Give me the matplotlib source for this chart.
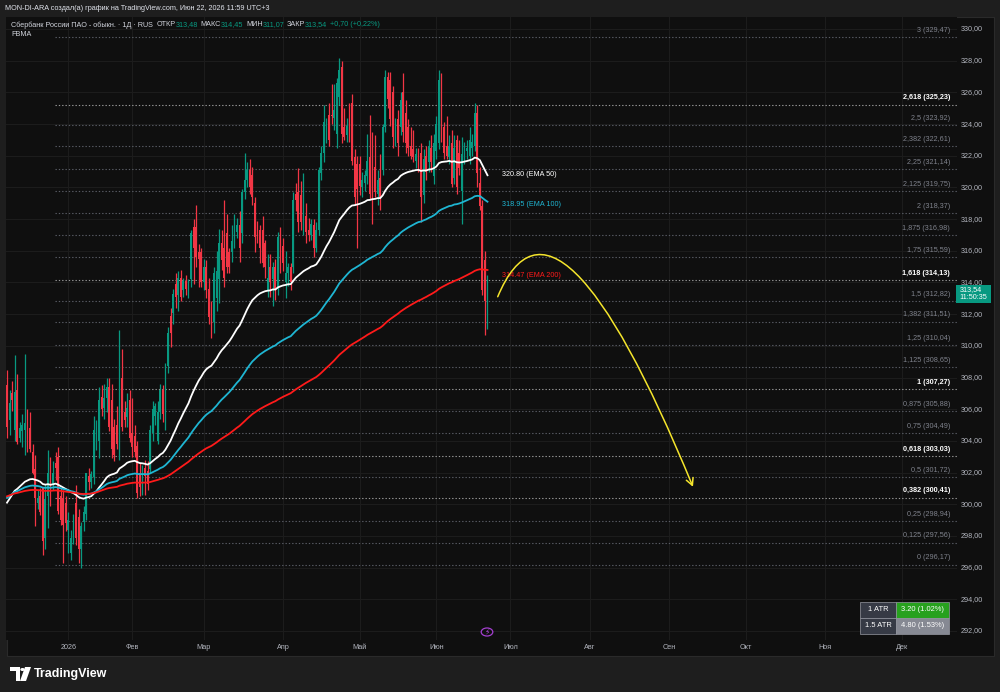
import numpy as np
import pandas as pd
import matplotlib
matplotlib.use('Agg')
import matplotlib.pyplot as plt
from matplotlib.patches import Rectangle, FancyArrowPatch, Circle, Polygon
from matplotlib.path import Path

plt.rcParams['font.family'] = ['Liberation Sans', 'DejaVu Sans']

# daily bars (MOEX trades on weekends too), 7 Dec 2025 .. 22 Jun 2026
first_day = '2025-12-07'
last_day = '2026-06-22'
holidays = ['2025-12-31', '2026-01-01', '2026-01-02', '2026-01-03', '2026-01-04',
            '2026-01-05', '2026-01-06', '2026-05-01', '2026-06-12']
year_end = '2026-12-31'

opens = [307.5, 305.3, 307.0, 304.7, 307.2, 304.2, 304.6, 304.7, 305.1, 304.8,
         303.3, 302.2, 300.1, 300.5, 301.1, 297.9, 300.5, 302.3, 301.3, 302.6,
         303.0, 300.5, 300.4, 300.1, 298.4, 296.9, 298.2, 300.1, 299.2, 297.2,
         298.9, 299.4, 301.8, 301.4, 301.7, 303.6, 304.0, 306.8, 306.1, 306.7,
         307.4, 306.6, 304.9, 305.0, 303.6, 308.0, 305.8, 305.5, 306.6, 304.5,
         304.3, 303.7, 302.0, 301.1, 302.3, 302.1, 302.2, 304.5, 305.6, 304.0,
         305.8, 307.2, 305.6, 308.7, 311.9, 312.1, 313.9, 313.2, 314.3, 313.5,
         314.1, 313.6, 314.2, 317.5, 317.5, 315.9, 315.9, 314.0, 315.0, 313.6,
         312.3, 311.5, 313.0, 314.2, 316.5, 316.2, 317.1, 315.9, 315.9, 316.7,
         317.2, 317.6, 317.1, 319.7, 320.5, 321.1, 320.8, 319.0, 317.3, 317.3,
         317.3, 316.5, 313.5, 315.0, 314.2, 315.0, 313.6, 317.2, 316.3, 314.0,
         314.6, 315.0, 315.0, 319.6, 319.7, 319.5, 317.5, 318.2, 317.3, 317.0,
         317.6, 316.2, 317.3, 320.9, 322.2, 323.5, 324.6, 324.6, 324.4, 323.4,
         325.7, 327.6, 323.8, 323.3, 324.2, 325.3, 321.9, 321.5, 321.5, 320.0,
         320.3, 320.7, 321.9, 321.5, 321.3, 319.6, 320.6, 321.1, 323.8, 327.0,
         326.8, 326.0, 323.1, 324.3, 323.8, 326.0, 324.7, 323.8, 322.6, 322.4,
         321.7, 322.0, 322.2, 319.5, 322.0, 321.6, 322.5, 320.7, 322.3, 322.8,
         326.8, 323.8, 322.6, 321.9, 322.8, 320.6, 323.0, 322.2, 319.8, 322.0,
         322.3, 322.0, 322.5, 322.6, 324.7, 320.3, 318.8, 315.4, 313.48]
highs = [308.5, 307.2, 307.8, 309.4, 308.2, 305.2, 305.7, 309.5, 306.0, 305.8,
         303.8, 303.1, 300.9, 301.0, 301.1, 301.3, 303.4, 303.0, 302.7, 303.3,
         303.6, 301.0, 300.9, 300.5, 299.5, 298.4, 299.4, 301.2, 299.7, 298.9,
         299.9, 302.0, 302.3, 302.1, 305.6, 305.3, 307.4, 307.5, 307.6, 308.0,
         308.0, 307.6, 305.4, 306.2, 311.0, 309.8, 306.5, 307.0, 307.2, 306.7,
         305.0, 304.0, 302.6, 302.5, 302.8, 302.7, 305.0, 306.5, 306.4, 306.5,
         307.6, 307.5, 308.9, 311.2, 312.4, 313.6, 314.6, 314.7, 314.8, 314.3,
         314.5, 314.2, 317.3, 318.0, 318.9, 316.4, 316.2, 315.5, 315.4, 314.3,
         312.8, 315.0, 316.0, 317.4, 317.3, 319.2, 318.3, 316.2, 317.6, 318.3,
         318.1, 318.5, 319.9, 322.2, 321.6, 321.8, 321.3, 319.4, 317.9, 317.6,
         318.2, 316.7, 315.8, 315.8, 315.3, 315.5, 317.2, 317.5, 316.8, 316.0,
         315.2, 315.2, 319.7, 320.3, 321.2, 320.4, 320.9, 319.0, 318.1, 318.0,
         318.0, 317.8, 321.3, 322.6, 325.2, 324.4, 325.3, 326.5, 326.5, 326.9,
         328.2, 328.0, 325.0, 324.4, 325.3, 325.9, 322.4, 322.0, 322.0, 321.0,
         321.1, 323.4, 324.6, 323.5, 323.3, 321.1, 322.1, 324.0, 327.4, 327.3,
         327.3, 326.4, 324.4, 324.9, 326.0, 327.2, 325.5, 324.3, 323.8, 323.6,
         322.5, 322.5, 322.8, 322.4, 322.6, 323.0, 323.3, 323.4, 324.5, 327.4,
         327.2, 324.1, 324.5, 323.3, 323.6, 323.3, 323.3, 323.0, 323.2, 322.9,
         323.0, 323.8, 323.4, 325.3, 325.2, 321.3, 319.2, 316.0, 314.45]
lows = [304.2, 304.4, 305.9, 304.0, 303.8, 303.9, 303.6, 303.1, 303.3, 303.3,
        301.9, 298.6, 299.7, 299.3, 296.8, 297.2, 298.5, 299.9, 300.9, 301.5,
        299.4, 298.7, 296.3, 298.3, 296.9, 296.5, 297.5, 297.4, 296.3, 296.0,
        298.3, 299.0, 300.9, 301.0, 301.3, 303.4, 302.9, 305.6, 305.4, 305.8,
        304.6, 302.9, 302.7, 303.5, 302.8, 304.6, 304.9, 304.9, 303.9, 303.0,
        303.0, 300.4, 300.5, 300.6, 300.6, 300.9, 302.0, 304.0, 305.0, 303.8,
        305.4, 305.2, 304.7, 308.3, 309.9, 311.4, 312.4, 312.2, 312.8, 313.1,
        313.2, 313.0, 313.7, 313.9, 315.0, 313.7, 313.7, 313.5, 313.0, 311.4,
        310.5, 310.8, 312.2, 312.7, 314.8, 313.7, 314.6, 314.6, 315.3, 316.2,
        316.8, 315.3, 316.5, 319.3, 320.0, 319.6, 318.9, 315.9, 316.5, 315.2,
        315.0, 314.3, 313.1, 313.1, 312.5, 312.9, 313.2, 314.6, 314.7, 313.0,
        313.8, 313.5, 314.6, 318.5, 317.2, 317.3, 317.0, 316.5, 316.6, 316.7,
        315.6, 315.9, 317.0, 320.5, 321.6, 322.8, 322.6, 324.0, 323.6, 322.5,
        325.2, 322.8, 323.0, 322.9, 322.9, 321.4, 318.9, 316.2, 319.5, 319.4,
        319.8, 320.2, 319.3, 317.7, 319.4, 318.9, 318.6, 320.8, 323.5, 325.0,
        323.9, 322.5, 322.6, 322.0, 323.3, 322.9, 322.2, 322.0, 321.8, 321.6,
        321.2, 321.0, 317.8, 319.0, 320.5, 321.0, 321.0, 320.2, 321.8, 322.4,
        322.9, 321.8, 321.8, 321.5, 320.0, 320.2, 319.6, 320.8, 317.7, 321.5,
        321.8, 321.5, 322.0, 322.3, 320.0, 318.6, 313.2, 310.7, 311.07]
closes = [304.9, 306.4, 306.6, 307.1, 303.9, 304.8, 305.0, 305.1, 303.4, 303.5,
          302.0, 300.4, 300.4, 299.5, 297.7, 300.3, 302.0, 300.3, 302.0, 302.3,
          299.6, 299.0, 298.7, 298.8, 299.0, 297.9, 299.1, 297.9, 297.2, 298.6,
          299.5, 302.0, 301.4, 301.9, 304.7, 304.4, 306.6, 306.0, 306.7, 307.4,
          304.9, 303.5, 303.1, 303.8, 308.5, 304.9, 305.3, 306.1, 304.2, 303.6,
          303.3, 300.7, 301.1, 302.2, 301.8, 301.3, 304.7, 306.0, 306.2, 305.8,
          307.2, 305.7, 308.6, 310.8, 310.8, 313.3, 313.1, 314.3, 313.1, 314.1,
          313.6, 314.0, 317.1, 316.2, 315.6, 315.5, 314.0, 315.0, 313.5, 311.8,
          311.1, 314.6, 314.7, 316.5, 315.4, 314.3, 315.0, 315.0, 316.6, 317.5,
          317.6, 316.2, 319.7, 320.5, 321.1, 320.0, 319.4, 316.9, 316.9, 316.2,
          315.2, 315.0, 314.3, 314.0, 315.0, 313.5, 316.9, 315.4, 315.2, 314.6,
          315.0, 314.0, 319.2, 319.2, 317.8, 317.8, 318.2, 317.2, 317.0, 317.7,
          316.2, 317.3, 321.1, 322.2, 324.1, 324.0, 323.0, 324.5, 324.9, 326.6,
          327.4, 323.4, 323.2, 323.9, 323.1, 321.7, 319.4, 319.9, 320.1, 320.5,
          320.8, 321.7, 319.6, 320.4, 319.7, 320.5, 319.3, 323.8, 327.0, 325.6,
          324.3, 323.2, 323.8, 322.8, 325.5, 323.5, 322.8, 322.5, 322.0, 321.9,
          322.1, 321.5, 319.4, 321.8, 321.0, 322.6, 321.6, 322.8, 324.0, 326.8,
          323.2, 322.2, 322.0, 322.6, 320.2, 322.5, 320.0, 321.2, 322.1, 322.6,
          322.5, 323.0, 322.9, 324.7, 320.9, 318.8, 313.5, 312.84, 313.54]

# EMA values at the first visible bar, and labels at the last bar
ema_spans = [50, 100, 200]
ema_seed = [300.1, 300.4, 300.5]
ema_colors = ['#ffffff', '#1fb6d3', '#ff1a1a']
ema_last = ['320.80', '318.95', '314.47']

fib_levels = ['0', '0,125', '0,25', '0,382', '0,5', '0,618', '0,75', '0,875', '1',
              '1,125', '1,25', '1,382', '1,5', '1,618', '1,75', '1,875', '2',
              '2,125', '2,25', '2,382', '2,5', '2,618', '3']
fib_prices = [296.17, 297.56, 298.94, 300.41, 301.72, 303.03, 304.49, 305.88, 307.27,
              308.65, 310.04, 311.51, 312.82, 314.13, 315.59, 316.98, 318.37,
              319.75, 321.14, 322.61, 323.92, 325.23, 329.47]
fib_key = ['0,382', '0,618', '1', '1,618', '2,618']

month_names = ['2026', 'Фев', 'Мар', 'Апр', 'Май', 'Июн', 'Июл', 'Авг', 'Сен',
               'Окт', 'Ноя', 'Дек']
price_ticks = np.arange(292, 331, 2)

# the hand-drawn projection arrow (bar index, price)
arc_pts = [(192, 313.1), (215, 322.0), (268.4, 301.1)]

o = np.array(opens); h = np.array(highs); l = np.array(lows); c = np.array(closes)
days = pd.date_range(first_day, last_day)
days = days[~days.isin(pd.to_datetime(holidays))]
future = pd.date_range(pd.Timestamp(last_day) + pd.Timedelta(days=1), year_end)
all_days = days.append(future)
idx = np.arange(len(c))

BG = '#0f0f0f'
fig = plt.figure(figsize=(10, 6.92), dpi=100, facecolor='#1e1e1e')

def fx(px):
    return px / 1000

def fy(py):
    return 1 - py / 692

# chart panel
fig.add_artist(Rectangle((fx(7), fy(656)), fx(987), 639 / 692, transform=fig.transFigure,
                         facecolor=BG, edgecolor='#2a2a2a', lw=0.8, zorder=0))

ax = fig.add_axes([fx(6), fy(640), fx(951), 623 / 692])
ax.set_facecolor(BG)
for s in ax.spines.values():
    s.set_visible(False)
ax.set_xlim(-0.39, 371.7)
ax.set_ylim(291.43, 330.76)
ax.set_xticks([])
ax.set_yticks([])

# grid
for p in price_ticks:
    ax.axhline(p, color='#1c1c1c', lw=0.8, zorder=0)
month_idx = []
for m in range(1, 13):
    pos = np.where((all_days.year == 2026) & (all_days.month == m))[0]
    month_idx.append(pos[0])
for mi in month_idx:
    ax.axvline(mi, color='#1c1c1c', lw=0.8, zorder=0)

# fibonacci levels
for lev, pr in zip(fib_levels, fib_prices):
    key = lev in fib_key
    ax.plot([18.8, 371.7], [pr, pr], ls=(0, (1.2, 1.8)), lw=0.8,
            color='#9a9a9a' if key else '#5a5d66', zorder=1)
    ax.annotate(f'{lev} ({pr:.2f})'.replace('.', ','), (369, pr), xytext=(0, 5),
                textcoords='offset points', ha='right', va='center', fontsize=5.2,
                color='#ffffff' if key else '#7f828c',
                fontweight='bold' if key else 'normal', zorder=2)

# candles
col = np.where(c >= o, '#089981', '#f23645')
ax.vlines(idx, l, h, colors=col, lw=0.9, zorder=3)
ax.bar(idx, np.maximum(np.abs(c - o), 0.06), bottom=np.minimum(o, c), width=0.7,
       color=col, lw=0, zorder=4)

# moving averages
for span, seed, colr, lab in zip(ema_spans, ema_seed, ema_colors, ema_last):
    a = 2 / (span + 1)
    e = [seed]
    for v in c[1:]:
        e.append(e[-1] + a * (v - e[-1]))
    ax.plot(idx, e, color=colr, lw=1.3, zorder=5)
    ax.text(193.5, float(lab), f'{lab} (EMA {span})', color=colr, fontsize=5.2,
            va='center', ha='left', zorder=6)

# projection arrow
arc = Path(arc_pts, [Path.MOVETO, Path.CURVE3, Path.CURVE3])
ax.add_patch(FancyArrowPatch(path=arc, arrowstyle='->,head_length=5,head_width=2.6',
                             color='#f5e52c', lw=1.1, zorder=7))

# price scale
ytr = ax.get_yaxis_transform()
for p in price_ticks:
    ax.text(1.0035, p, f'{p:.2f}'.replace('.', ','), transform=ytr, fontsize=5.2,
            color='#b2b5be', va='center', ha='left', clip_on=False)
last = closes[-1]
ax.add_patch(Rectangle((0.999, last - 0.85), 0.0368, 1.16, transform=ytr,
                       facecolor='#089981', edgecolor='none', clip_on=False, zorder=8))
ax.text(1.003, last + 0.02, f'{last:.2f}'.replace('.', ','), transform=ytr, fontsize=5.2,
        color='white', va='center', ha='left', clip_on=False, zorder=9)
ax.text(1.003, last - 0.5, '11:50:35', transform=ytr, fontsize=5.2,
        color='white', va='center', ha='left', clip_on=False, zorder=9)

# time scale
xtr = ax.get_xaxis_transform()
for mi, name in zip(month_idx, month_names):
    ax.text(mi, -0.0128, name, transform=xtr, fontsize=5.2, color='#b2b5be',
            ha='center', va='center', clip_on=False)

# ATR table
cells = [(860, 602, 36, 15.5, '#363a45', '1 ATR'),
         (896, 602, 53, 15.5, '#27a11e', '3.20 (1.02%)'),
         (860, 618, 36, 15.5, '#363a45', '1.5 ATR'),
         (896, 618, 53, 15.5, '#868993', '4.80 (1.53%)')]
for x0, y0, w, hh, fc, txt in cells:
    fig.add_artist(Rectangle((fx(x0), fy(y0 + hh)), fx(w), hh / 692,
                             transform=fig.transFigure, facecolor=fc,
                             edgecolor='#9598a1', lw=0.5, zorder=10))
    fig.text(fx(x0 + w / 2), fy(y0 + hh / 2), txt, color='white', fontsize=5.4,
             ha='center', va='center', zorder=11)

# lightning badge
fig.add_artist(Circle((fx(487), fy(632)), 0.0058, transform=fig.transFigure,
                      facecolor=BG, edgecolor='#a43fd0', lw=0.9, zorder=10))
fig.text(fx(487), fy(632), '⚡', color='#b54be0', fontsize=5.5, ha='center',
         va='center', family='DejaVu Sans', zorder=11)

# header texts
fig.text(fx(5), fy(8), 'MON-DI-ARA создал(а) график на TradingView.com, Июн 22, 2026 11:59 UTC+3',
         color='#e0e3eb', fontsize=5.2, va='center')
pieces = [('Сбербанк России ПАО - обыкн. · 1Д · RUS', '#d1d4dc', 2.0),
          ('ОТКР', '#d1d4dc', 0), ('313,48', '#089981', 1.2),
          ('МАКС', '#d1d4dc', 0), ('314,45', '#089981', 1.2),
          ('МИН', '#d1d4dc', 0), ('311,07', '#089981', 1.2),
          ('ЗАКР', '#d1d4dc', 0), ('313,54', '#089981', 1.2),
          ('+0,70 (+0,22%)', '#089981', 0)]
renderer = fig.canvas.get_renderer()
xpos = 11
for txt, colr, gap in pieces:
    t = fig.text(fx(xpos), fy(25), txt, color=colr, fontsize=5.2, va='center')
    bb = t.get_window_extent(renderer)
    xpos = bb.x1 + gap * 2
fig.text(fx(11), fy(35), 'FBMA', color='#d1d4dc', fontsize=5.2, va='center')

# TradingView logo
logo = [[(10, 667), (20, 667), (20, 681), (16, 681), (16, 671), (10, 671)],
        [(25, 667), (31, 667), (26, 681), (20, 681)]]
for pts in logo:
    fig.add_artist(Polygon([(fx(px), fy(py)) for px, py in pts], closed=True,
                           transform=fig.transFigure, facecolor='white', edgecolor='none'))
fig.add_artist(Circle((fx(22.5), fy(669.5)), 0.0022, transform=fig.transFigure,
                      facecolor='white', edgecolor='none'))
fig.text(fx(34), fy(674), 'TradingView', color='white', fontsize=9, fontweight='bold',
         va='center')

fig.savefig('out.png', dpi=100, facecolor=fig.get_facecolor())
